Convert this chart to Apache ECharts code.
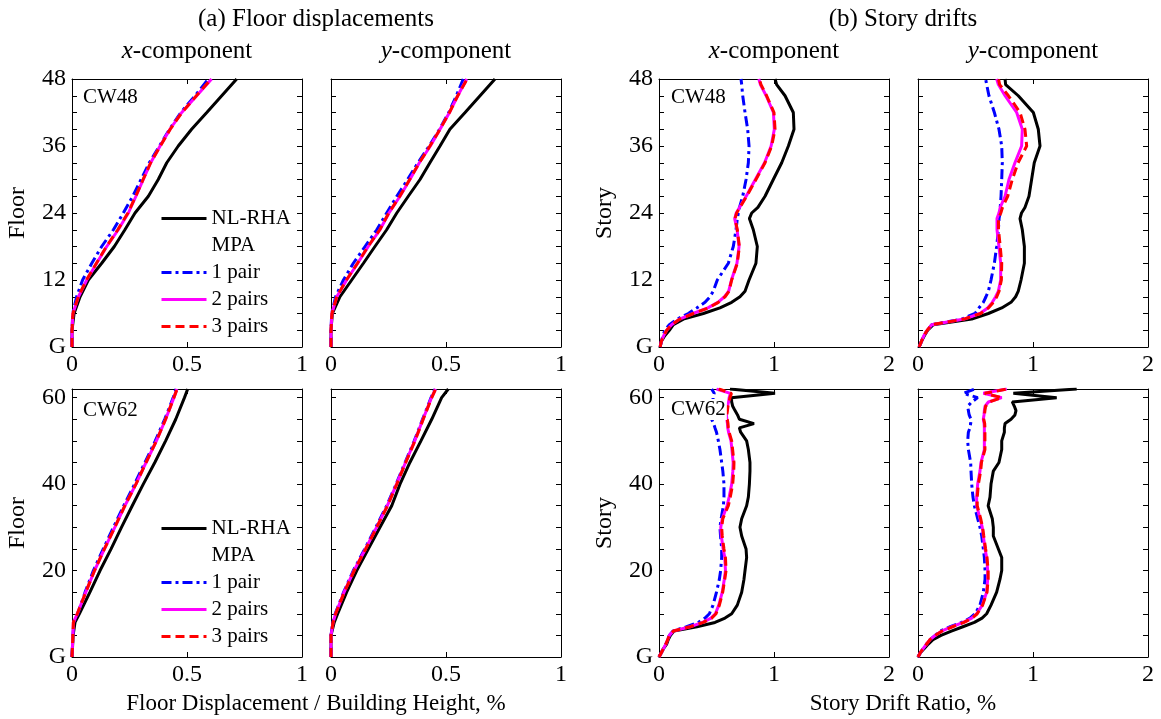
<!DOCTYPE html>
<html>
<head>
<meta charset="utf-8">
<script src="https://cdn.jsdelivr.net/npm/echarts/dist/echarts.min.js"></script>
<style>
  html, body { margin: 0; padding: 0; background: #fff; }
  #chart { width: 1161px; height: 719px; }
</style>
</head>
<body>
<div id="chart"></div>
<script>
// ---- Levels (floor / story numbers) ----
const FLOORS48 = [0, 3, 6, 9, 12, 15, 18, 21, 24, 27, 30, 33, 36, 39, 42, 45, 48];
const FLOORS62 = [0, 5, 8, 10, 15, 20, 25, 30, 35, 40, 45, 50, 55, 60, 62];
const STORIES48 = [0, 1, 2, 3, 4, 5, 6, 7, 8, 9, 10, 12, 15, 18, 21, 23, 24, 25, 27, 30, 33, 36, 39, 42, 45, 47, 48];
const STORIES62 = [0, 1, 2, 3, 4, 5, 6, 7, 8, 9, 10, 12, 15, 18, 20, 23, 25, 28, 30, 32, 35, 37, 40, 43, 45, 48, 50, 52, 53, 54, 55, 56, 57, 58, 59, 60, 61, 62];

// ---- Tick labels ----
const GROUND_LABEL = 'G';
const LEVEL_TICKS_48 = [12, 24, 36, 48];
const LEVEL_TICKS_62 = [20, 40, 60];

// ---- Series names ----
const NAME_NLRHA = 'NL-RHA';
const NAME_MPA = 'MPA';
const NAME_P1 = '1 pair';
const NAME_P2 = '2 pairs';
const NAME_P3 = '3 pairs';

// ---- CW48 floor displacement / building height, %  (x-component) ----
const DISP48X_NLRHA = [0, 0, 0.009, 0.035, 0.071, 0.129, 0.184, 0.230, 0.274, 0.332, 0.375, 0.412, 0.462, 0.520, 0.586, 0.651, 0.716];
const DISP48X_P1    = [0, 0, 0.003, 0.020, 0.046, 0.086, 0.129, 0.180, 0.223, 0.264, 0.300, 0.336, 0.380, 0.424, 0.473, 0.535, 0.593];
const DISP48X_P2    = [0, 0, 0.004, 0.028, 0.064, 0.107, 0.151, 0.201, 0.245, 0.278, 0.310, 0.342, 0.383, 0.426, 0.477, 0.542, 0.607];
const DISP48X_P3    = [0, 0, 0.004, 0.027, 0.063, 0.106, 0.150, 0.199, 0.243, 0.277, 0.309, 0.342, 0.384, 0.427, 0.478, 0.541, 0.605];
// ---- CW48 floor displacement (y-component) ----
const DISP48Y_NLRHA = [0, 0, 0.006, 0.039, 0.090, 0.141, 0.191, 0.242, 0.286, 0.336, 0.387, 0.430, 0.474, 0.517, 0.583, 0.648, 0.713];
const DISP48Y_P1    = [0, 0, 0.003, 0.020, 0.054, 0.097, 0.148, 0.199, 0.242, 0.286, 0.333, 0.378, 0.427, 0.472, 0.512, 0.545, 0.575];
const DISP48Y_P2    = [0, 0, 0.004, 0.025, 0.068, 0.116, 0.162, 0.213, 0.252, 0.300, 0.343, 0.384, 0.432, 0.474, 0.515, 0.551, 0.590];
const DISP48Y_P3    = [0, 0, 0.004, 0.025, 0.067, 0.115, 0.161, 0.212, 0.251, 0.299, 0.342, 0.384, 0.430, 0.474, 0.515, 0.551, 0.592];

// ---- CW62 floor displacement (x-component) ----
const DISP62X_NLRHA = [0, 0.005, 0.013, 0.032, 0.078, 0.122, 0.170, 0.215, 0.262, 0.310, 0.360, 0.407, 0.451, 0.489, 0.503];
const DISP62X_P1    = [0, 0.004, 0.008, 0.025, 0.057, 0.093, 0.136, 0.180, 0.225, 0.272, 0.317, 0.362, 0.403, 0.440, 0.452];
const DISP62X_P2    = [0, 0.004, 0.006, 0.023, 0.060, 0.098, 0.141, 0.186, 0.230, 0.278, 0.322, 0.367, 0.407, 0.443, 0.456];
const DISP62X_P3    = [0, 0.004, 0.006, 0.023, 0.060, 0.098, 0.141, 0.186, 0.230, 0.278, 0.322, 0.367, 0.407, 0.443, 0.457];
// ---- CW62 floor displacement (y-component) ----
const DISP62Y_NLRHA = [0, 0, 0.014, 0.029, 0.068, 0.112, 0.162, 0.213, 0.264, 0.300, 0.343, 0.391, 0.438, 0.481, 0.510];
const DISP62Y_P1    = [0, 0, 0.008, 0.018, 0.055, 0.097, 0.147, 0.195, 0.242, 0.283, 0.322, 0.362, 0.398, 0.435, 0.452];
const DISP62Y_P2    = [0, 0, 0.009, 0.020, 0.057, 0.100, 0.150, 0.198, 0.245, 0.285, 0.324, 0.364, 0.400, 0.437, 0.455];
const DISP62Y_P3    = [0, 0, 0.009, 0.020, 0.058, 0.101, 0.151, 0.199, 0.246, 0.286, 0.325, 0.365, 0.401, 0.438, 0.455];

// ---- CW48 story drift ratio, %  (x-component) ----
const DRIFT48X_NLRHA = [0.01, 0.02, 0.05, 0.09, 0.125, 0.212, 0.386, 0.530, 0.632, 0.704, 0.748, 0.783, 0.843, 0.855, 0.820, 0.786, 0.806, 0.860, 0.922, 0.994, 1.067, 1.125, 1.174, 1.168, 1.096, 1.023, 1.009];
const DRIFT48X_P1    = [0.01, 0.02, 0.035, 0.05, 0.09, 0.16, 0.255, 0.328, 0.400, 0.443, 0.472, 0.507, 0.603, 0.646, 0.670, 0.681, 0.690, 0.700, 0.728, 0.757, 0.777, 0.783, 0.771, 0.748, 0.728, 0.719, 0.713];
const DRIFT48X_P2    = [0.01, 0.02, 0.04, 0.067, 0.11, 0.180, 0.295, 0.425, 0.512, 0.570, 0.606, 0.630, 0.678, 0.696, 0.679, 0.658, 0.672, 0.700, 0.758, 0.838, 0.918, 0.975, 1.003, 0.995, 0.932, 0.882, 0.868];
const DRIFT48X_P3    = [0.01, 0.02, 0.04, 0.067, 0.11, 0.183, 0.299, 0.430, 0.516, 0.574, 0.609, 0.632, 0.681, 0.699, 0.681, 0.661, 0.675, 0.704, 0.762, 0.843, 0.922, 0.980, 1.009, 1.000, 0.936, 0.887, 0.872];
// ---- CW48 story drift (y-component) ----
const DRIFT48Y_NLRHA = [0.01, 0.03, 0.055, 0.084, 0.133, 0.467, 0.612, 0.728, 0.809, 0.849, 0.872, 0.896, 0.925, 0.925, 0.907, 0.887, 0.900, 0.930, 0.965, 0.988, 1.011, 1.061, 1.046, 1.003, 0.872, 0.762, 0.757];
const DRIFT48Y_P1    = [0.01, 0.03, 0.05, 0.08, 0.12, 0.38, 0.496, 0.530, 0.568, 0.591, 0.612, 0.635, 0.664, 0.684, 0.699, 0.705, 0.713, 0.715, 0.722, 0.728, 0.733, 0.728, 0.704, 0.664, 0.617, 0.597, 0.588];
const DRIFT48Y_P2    = [0.01, 0.03, 0.05, 0.08, 0.12, 0.40, 0.539, 0.606, 0.646, 0.675, 0.699, 0.719, 0.719, 0.704, 0.687, 0.687, 0.704, 0.715, 0.757, 0.791, 0.843, 0.901, 0.907, 0.858, 0.757, 0.699, 0.684];
const DRIFT48Y_P3    = [0.01, 0.03, 0.05, 0.08, 0.12, 0.40, 0.545, 0.612, 0.655, 0.685, 0.705, 0.725, 0.728, 0.715, 0.700, 0.700, 0.720, 0.735, 0.780, 0.820, 0.870, 0.945, 0.930, 0.887, 0.786, 0.710, 0.700];

// ---- CW62 story drift (x-component) ----
const DRIFT62X_NLRHA = [0, 0.02, 0.04, 0.067, 0.08, 0.10, 0.13, 0.33, 0.487, 0.574, 0.632, 0.681, 0.719, 0.739, 0.748, 0.762, 0.757, 0.719, 0.704, 0.719, 0.762, 0.777, 0.786, 0.791, 0.791, 0.777, 0.762, 0.710, 0.699, 0.826, 0.699, 0.683, 0.661, 0.641, 0.632, 0.630, 1.009, 0.617];
const DRIFT62X_P1    = [0, 0.02, 0.04, 0.06, 0.075, 0.09, 0.12, 0.24, 0.34, 0.40, 0.438, 0.47, 0.50, 0.525, 0.536, 0.545, 0.545, 0.535, 0.53, 0.54, 0.56, 0.565, 0.565, 0.555, 0.545, 0.53, 0.516, 0.50, 0.487, 0.475, 0.458, 0.46, 0.465, 0.47, 0.47, 0.47, 0.48, 0.458];
const DRIFT62X_P2    = [0, 0.02, 0.04, 0.06, 0.075, 0.09, 0.125, 0.27, 0.38, 0.452, 0.49, 0.52, 0.55, 0.568, 0.578, 0.572, 0.558, 0.542, 0.537, 0.55, 0.592, 0.61, 0.632, 0.642, 0.645, 0.634, 0.626, 0.605, 0.598, 0.595, 0.59, 0.586, 0.59, 0.595, 0.605, 0.61, 0.62, 0.50];
const DRIFT62X_P3    = [0, 0.02, 0.04, 0.06, 0.075, 0.09, 0.125, 0.27, 0.385, 0.458, 0.496, 0.525, 0.554, 0.572, 0.583, 0.578, 0.565, 0.55, 0.545, 0.555, 0.603, 0.62, 0.641, 0.65, 0.652, 0.64, 0.632, 0.61, 0.603, 0.60, 0.594, 0.59, 0.595, 0.60, 0.61, 0.617, 0.63, 0.52];
// ---- CW62 story drift (y-component) ----
const DRIFT62Y_NLRHA = [0, 0.02, 0.055, 0.09, 0.13, 0.20, 0.29, 0.39, 0.49, 0.557, 0.597, 0.635, 0.684, 0.713, 0.728, 0.728, 0.699, 0.655, 0.655, 0.646, 0.61, 0.626, 0.635, 0.655, 0.704, 0.728, 0.728, 0.751, 0.751, 0.757, 0.809, 0.843, 0.852, 0.838, 0.820, 1.206, 0.829, 1.380];
const DRIFT62Y_P1    = [0, 0.02, 0.046, 0.075, 0.104, 0.15, 0.19, 0.28, 0.38, 0.452, 0.496, 0.539, 0.568, 0.583, 0.583, 0.577, 0.568, 0.554, 0.539, 0.519, 0.49, 0.478, 0.467, 0.461, 0.458, 0.438, 0.432, 0.438, 0.452, 0.458, 0.461, 0.445, 0.438, 0.432, 0.467, 0.519, 0.394, 0.496];
const DRIFT62Y_P2    = [0, 0.02, 0.046, 0.075, 0.104, 0.15, 0.206, 0.293, 0.394, 0.467, 0.51, 0.559, 0.597, 0.606, 0.606, 0.597, 0.583, 0.568, 0.559, 0.539, 0.51, 0.51, 0.519, 0.539, 0.548, 0.577, 0.577, 0.577, 0.577, 0.575, 0.568, 0.574, 0.577, 0.583, 0.612, 0.728, 0.568, 0.772];
const DRIFT62Y_P3    = [0, 0.02, 0.046, 0.075, 0.104, 0.15, 0.21, 0.30, 0.40, 0.47, 0.515, 0.562, 0.60, 0.61, 0.61, 0.60, 0.588, 0.572, 0.562, 0.545, 0.515, 0.515, 0.525, 0.545, 0.552, 0.582, 0.582, 0.582, 0.582, 0.58, 0.572, 0.578, 0.582, 0.588, 0.62, 0.728, 0.58, 0.772];

// ---- Layout / styles ----
const FONT = "'Liberation Serif', 'Times New Roman', serif";
const PLOT_W = 230, PLOT_H = 268;
const COLS = [72, 331, 659, 918];
const ROWS = [79, 389];

const STYLES = [
  { name: NAME_NLRHA, color: '#000000', type: 'solid' },
  { name: NAME_P1, color: '#0000ff', type: [10, 4, 3, 4] },
  { name: NAME_P2, color: '#ff00ff', type: 'solid' },
  { name: NAME_P3, color: '#ff0000', type: [9, 5] }
];

const panels = [
  { col: 0, row: 0, levels: FLOORS48, values: [DISP48X_NLRHA, DISP48X_P1, DISP48X_P2, DISP48X_P3], xMax: 1, xStep: 0.5, yMax: 48, yStep: 3, ticks: LEVEL_TICKS_48, yName: 'Floor' },
  { col: 1, row: 0, levels: FLOORS48, values: [DISP48Y_NLRHA, DISP48Y_P1, DISP48Y_P2, DISP48Y_P3], xMax: 1, xStep: 0.5, yMax: 48, yStep: 3, ticks: [], yName: '' },
  { col: 2, row: 0, levels: STORIES48, values: [DRIFT48X_NLRHA, DRIFT48X_P1, DRIFT48X_P2, DRIFT48X_P3], xMax: 2, xStep: 1, yMax: 48, yStep: 3, ticks: LEVEL_TICKS_48, yName: 'Story' },
  { col: 3, row: 0, levels: STORIES48, values: [DRIFT48Y_NLRHA, DRIFT48Y_P1, DRIFT48Y_P2, DRIFT48Y_P3], xMax: 2, xStep: 1, yMax: 48, yStep: 3, ticks: [], yName: '' },
  { col: 0, row: 1, levels: FLOORS62, values: [DISP62X_NLRHA, DISP62X_P1, DISP62X_P2, DISP62X_P3], xMax: 1, xStep: 0.5, yMax: 62, yStep: 5, ticks: LEVEL_TICKS_62, yName: 'Floor' },
  { col: 1, row: 1, levels: FLOORS62, values: [DISP62Y_NLRHA, DISP62Y_P1, DISP62Y_P2, DISP62Y_P3], xMax: 1, xStep: 0.5, yMax: 62, yStep: 5, ticks: [], yName: '' },
  { col: 2, row: 1, levels: STORIES62, values: [DRIFT62X_NLRHA, DRIFT62X_P1, DRIFT62X_P2, DRIFT62X_P3], xMax: 2, xStep: 1, yMax: 62, yStep: 5, ticks: LEVEL_TICKS_62, yName: 'Story' },
  { col: 3, row: 1, levels: STORIES62, values: [DRIFT62Y_NLRHA, DRIFT62Y_P1, DRIFT62Y_P2, DRIFT62Y_P3], xMax: 2, xStep: 1, yMax: 62, yStep: 5, ticks: [], yName: '' }
];

const grids = [], xAxes = [], yAxes = [], series = [];
const axisLine = { show: true, onZero: false, lineStyle: { color: '#000', width: 1 } };
const axisTick = { show: true, inside: true, length: 5, lineStyle: { color: '#000', width: 1 } };

panels.forEach((p, i) => {
  grids.push({ left: COLS[p.col], top: ROWS[p.row], width: PLOT_W, height: PLOT_H, containLabel: false });
  const xBase = { gridIndex: i, type: 'value', min: 0, max: p.xMax, interval: p.xStep, splitLine: { show: false }, axisLine, axisTick };
  xAxes.push(Object.assign({}, xBase, {
    position: 'bottom',
    axisLabel: { show: true, color: '#000', fontFamily: FONT, fontSize: 24, margin: 6, showMinLabel: true, showMaxLabel: true }
  }));
  xAxes.push(Object.assign({}, xBase, { position: 'top', axisLabel: { show: false } }));

  const yBase = { gridIndex: i, type: 'value', min: 0, max: p.yMax, interval: p.yStep, splitLine: { show: false }, axisLine, axisTick };
  const showLabels = p.col === 0 || p.col === 2;
  yAxes.push(Object.assign({}, yBase, {
    position: 'left',
    name: p.yName, nameLocation: 'middle', nameGap: 42, nameRotate: 90,
    nameTextStyle: { color: '#000', fontFamily: FONT, fontSize: 24 },
    axisLabel: {
      show: showLabels, color: '#000', fontFamily: FONT, fontSize: 24, margin: 6,
      showMinLabel: true, showMaxLabel: true,
      formatter: v => v === 0 ? GROUND_LABEL : (p.ticks.indexOf(v) >= 0 ? String(v) : '')
    }
  }));
  yAxes.push(Object.assign({}, yBase, { position: 'right', axisLabel: { show: false } }));

  STYLES.forEach((s, k) => {
    const vals = p.values[k];
    series.push({
      type: 'line', name: s.name,
      xAxisIndex: 2 * i, yAxisIndex: 2 * i,
      data: p.levels.map((lv, j) => [vals[j], lv]),
      symbol: 'none', showSymbol: false, smooth: false, clip: true,
      z: 2 + k,
      lineStyle: { color: s.color, width: 3, type: s.type },
      itemStyle: { color: s.color },
      emphasis: { disabled: true },
      silent: true
    });
  });
});

// Empty series so the legend can show the "MPA" heading row
series.push({ type: 'line', name: NAME_MPA, xAxisIndex: 0, yAxisIndex: 0, data: [], symbol: 'none', lineStyle: { color: '#000', width: 0 } });

const legendData = [
  { name: NAME_NLRHA },
  { name: NAME_MPA, icon: 'none' },
  { name: NAME_P1 },
  { name: NAME_P2 },
  { name: NAME_P3 }
];
const legendBase = {
  orient: 'vertical', left: 160, padding: 0, itemGap: 6, itemWidth: 45, itemHeight: 14,
  selectedMode: false, data: legendData,
  lineStyle: { width: 3 },
  // line-only keys: hide the marker glyph on each sample line
  itemStyle: { color: 'rgba(0,0,0,0)', borderColor: 'rgba(0,0,0,0)', borderWidth: 0, opacity: 0 },
  textStyle: { color: '#000', fontFamily: FONT, fontSize: 21, lineHeight: 21 }
};

const txt = (size, extra) => Object.assign({ color: '#000', fontFamily: FONT, fontSize: size, fontWeight: 'normal' }, extra || {});
const richComp = { i: { fontStyle: 'italic', fontFamily: FONT, fontSize: 25, color: '#000' } };

const titles = [
  { text: '(a) Floor displacements', left: 316, top: 7, textAlign: 'center', padding: 0, textStyle: txt(25) },
  { text: '(b) Story drifts', left: 903, top: 7, textAlign: 'center', padding: 0, textStyle: txt(25) },
  { text: '{i|x}-component', left: 187, top: 39, textAlign: 'center', padding: 0, textStyle: txt(25, { rich: richComp }) },
  { text: '{i|y}-component', left: 446, top: 39, textAlign: 'center', padding: 0, textStyle: txt(25, { rich: richComp }) },
  { text: '{i|x}-component', left: 774, top: 39, textAlign: 'center', padding: 0, textStyle: txt(25, { rich: richComp }) },
  { text: '{i|y}-component', left: 1033, top: 39, textAlign: 'center', padding: 0, textStyle: txt(25, { rich: richComp }) },
  { text: 'CW48', left: 82, top: 87, padding: [0, 1], backgroundColor: '#fff', textStyle: txt(21) },
  { text: 'CW48', left: 670, top: 87, padding: [0, 1], backgroundColor: '#fff', textStyle: txt(21) },
  { text: 'CW62', left: 82, top: 400, padding: [0, 1], backgroundColor: '#fff', textStyle: txt(21) },
  { text: 'CW62', left: 670, top: 399, padding: [0, 1], backgroundColor: '#fff', textStyle: txt(21) },
  { text: 'Floor Displacement / Building Height, %', left: 316, top: 692, textAlign: 'center', padding: 0, textStyle: txt(23) },
  { text: 'Story Drift Ratio, %', left: 903, top: 692, textAlign: 'center', padding: 0, textStyle: txt(23) }
];

const chart = echarts.init(document.getElementById('chart'), null, { renderer: 'canvas' });
chart.setOption({
  animation: false,
  backgroundColor: '#ffffff',
  title: titles,
  legend: [
    Object.assign({}, legendBase, { top: 208 }),
    Object.assign({}, legendBase, { top: 518 })
  ],
  grid: grids,
  xAxis: xAxes,
  yAxis: yAxes,
  series: series
});
</script>
</body>
</html>
